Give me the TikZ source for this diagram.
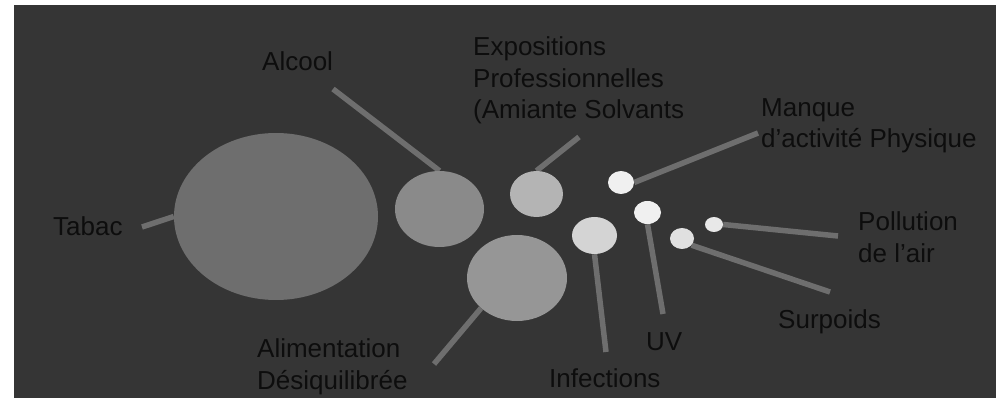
\documentclass[tikz,border=0pt]{standalone}
\usepackage{fontspec}
\setmainfont{Liberation Sans}
\usetikzlibrary{shapes.geometric}
\pgfdeclarelayer{bg}
\pgfsetlayers{bg,main}
\definecolor{bgdark}{HTML}{353535}
\definecolor{linegray}{HTML}{6E6E6E}
\definecolor{txt}{HTML}{0D0D0D}
\definecolor{cTabac}{HTML}{6E6E6E}
\definecolor{cAlcool}{HTML}{8A8A8A}
\definecolor{cAlim}{HTML}{969696}
\definecolor{cExpo}{HTML}{B4B4B4}
\definecolor{cInfec}{HTML}{D4D4D4}
\definecolor{cManque}{HTML}{F0F0F0}
\definecolor{cUV}{HTML}{F0F0F0}
\definecolor{cSurp}{HTML}{E0E0E0}
\definecolor{cPoll}{HTML}{E8E8E8}
\tikzset{
  blob/.style={ellipse, draw=none, inner sep=0pt, fill=#1},
  conn/.style={draw=linegray, line width=5.5pt, line cap=butt},
  lbl/.style={anchor=base west, inner sep=0pt, text=txt, align=left,
    font=\fontsize{26}{31.5}\selectfont},
}
\begin{document}
\begin{tikzpicture}[x=1pt,y=-1pt]
\useasboundingbox (0,0) rectangle (996,398);
% ellipses
\node[blob=cTabac, minimum width=204pt, minimum height=167pt] (tab) at (276,216.5) {};
\node[blob=cAlcool, minimum width=89pt, minimum height=76pt] (alc) at (439.5,209) {};
\node[blob=cAlim, minimum width=100pt, minimum height=86pt] (ali) at (517,278) {};
\node[blob=cExpo, minimum width=53pt, minimum height=46pt] (exp) at (536.5,194) {};
\node[blob=cInfec, minimum width=45pt, minimum height=37pt] (inf) at (594.5,235.5) {};
\node[blob=cManque, minimum width=26pt, minimum height=23pt] (man) at (621,182.5) {};
\node[blob=cUV, minimum width=27pt, minimum height=23pt] (uv) at (647.5,212.5) {};
\node[blob=cSurp, minimum width=24pt, minimum height=21pt] (sur) at (682,238.5) {};
\node[blob=cPoll, minimum width=18pt, minimum height=15pt] (pol) at (714,224.5) {};
% free ends of connectors
\coordinate (cTab) at (142,227);
\coordinate (cAlc) at (333,89);
\coordinate (cExp) at (579,137);
\coordinate (cMan) at (758,133);
\coordinate (cPol) at (838,236);
\coordinate (cSur) at (830,292);
\coordinate (cUVe) at (663,314);
\coordinate (cInf) at (606,352);
\coordinate (cAli) at (434,364);
\begin{pgfonlayer}{bg}
\fill[white] (0,0) rectangle (996,398);
\fill[bgdark] (14,5) rectangle (996,398);
\draw[conn] (cTab) -- (tab.180);
\draw[conn] (cAlc) -- (alc.north);
\draw[conn] (cExp) -- (exp.north);
\draw[conn] (cMan) -- (man.east);
\draw[conn] (cPol) -- (pol.east);
\draw[conn] (cSur) -- (sur.-35);
\draw[conn] (cUVe) -- (uv.south);
\draw[conn] (cInf) -- (inf.south);
\draw[conn] (cAli) -- (ali.220);
\end{pgfonlayer}
% labels (multi-line: anchored at the baseline of the last line)
\node[lbl] (tTab) at (53,236) {Tabac};
\node[lbl] (tAlc) at (262,71) {Alcool};
\node[lbl] (tExp) at (473,119) {Expositions\\Professionnelles\\(Amiante Solvants};
\node[lbl] (tMan) at (761,148) {Manque\\d’activité Physique};
\node[lbl] (tPol) at (858,262) {Pollution\\de l’air};
\node[lbl] (tSur) at (778,328) {Surpoids};
\node[lbl] (tUV) at (646,350) {UV};
\node[lbl] (tInf) at (549,387) {Infections};
\node[lbl] (tAli) at (257,389) {Alimentation\\Désiquilibrée};
\end{tikzpicture}
\end{document}
